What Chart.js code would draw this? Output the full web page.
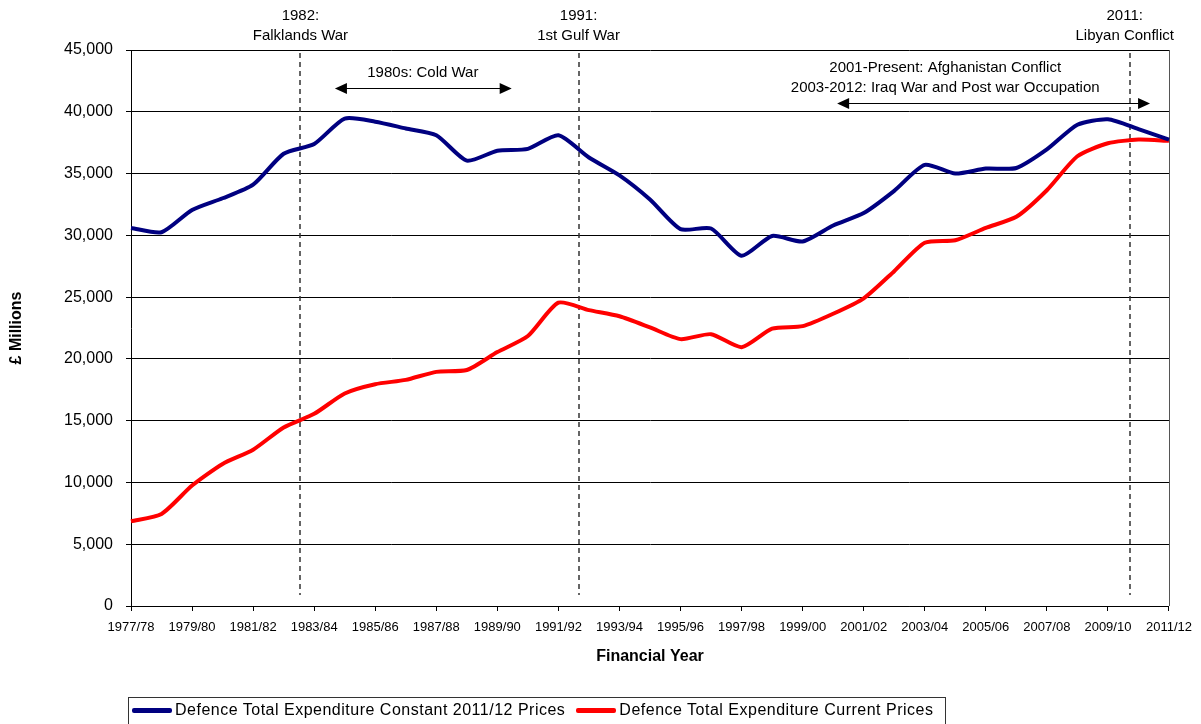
<!DOCTYPE html>
<html>
<head>
<meta charset="utf-8">
<title>Defence Total Expenditure</title>
<script src="https://cdn.jsdelivr.net/npm/chart.js@4.4.0/dist/chart.umd.min.js"></script>
<style>
  body { margin: 0; background: #fff; font-family: "Liberation Sans", Arial, sans-serif; }
  #wrap { position: relative; width: 1201px; height: 724px; overflow: hidden; }
  #legendBox {
    position: absolute; left: 128px; top: 697px; width: 816px; height: 30px;
    border: 1px solid #333; box-sizing: content-box;
    display: flex; align-items: flex-start; padding-top: 3px;
    font-size: 16px; line-height: 18px; letter-spacing: 0.5px; color: #000; white-space: nowrap;
  }
  .item { display: flex; align-items: center; }
  .swatch { display: inline-block; width: 40px; height: 5px; border-radius: 2px; margin-right: 3px; }
</style>
</head>
<body>
<div id="wrap">
  <canvas id="spendChart" width="1201" height="724"></canvas>
  <div id="legendBox"></div>
</div>
<script>
// --- Data (£ millions) ---
const years = [
  '1977/78', '1978/79', '1979/80', '1980/81', '1981/82', '1982/83', '1983/84',
  '1984/85', '1985/86', '1986/87', '1987/88', '1988/89', '1989/90', '1990/91',
  '1991/92', '1992/93', '1993/94', '1994/95', '1995/96', '1996/97', '1997/98',
  '1998/99', '1999/00', '2000/01', '2001/02', '2002/03', '2003/04', '2004/05',
  '2005/06', '2006/07', '2007/08', '2008/09', '2009/10', '2010/11', '2011/12'
];

const constantPrices = [
  30600, 30250, 32050, 33000, 34100, 36600, 37400,
  39450, 39200, 38650, 38100, 36050, 36850, 37000,
  38100, 36300, 34850, 32900, 30500, 30550, 28350,
  29950, 29500, 30800, 31800, 33600, 35700, 35000,
  35400, 35450, 36950, 38950, 39400, 38600, 37750
];

const currentPrices = [
  6850, 7450, 9750, 11500, 12650, 14450, 15550,
  17200, 17950, 18300, 18950, 19100, 20550, 21850,
  24550, 23950, 23450, 22550, 21600, 22000, 20950,
  22450, 22650, 23650, 24900, 27100, 29400, 29600,
  30600, 31500, 33650, 36400, 37450, 37750, 37650
];

const seriesNames = [
  'Defence Total Expenditure Constant 2011/12 Prices',
  'Defence Total Expenditure Current Prices'
];
const seriesColors = ['#000080', '#ff0000'];

// conflict markers: position in category units along the year axis
const eventLines = [
  { at: 5.55, textAt: 5.55, lines: ['1982:', 'Falklands War'] },
  { at: 14.66, textAt: 14.66, lines: ['1991:', '1st Gulf War'] },
  { at: 32.72, textAt: 32.55, lines: ['2011:', 'Libyan Conflict'] }
];

const periodArrows = [
  { from: 6.68, to: 12.47, textAt: 9.56, value: 41900, lines: ['1980s: Cold War'] },
  { from: 23.13, to: 33.38, textAt: 26.67, value: 40750,
    lines: ['2001-Present: Afghanistan Conflict', '2003-2012: Iraq War and Post war Occupation'] }
];

const FONT = '"Liberation Sans", Arial, sans-serif';
Chart.defaults.font.family = FONT;
Chart.defaults.color = '#000';

// --- Annotation plugin: dashed event lines, period arrows, frame ---
const annotations = {
  id: 'annotations',
  beforeDatasetsDraw(chart) {
    const { ctx, chartArea: area, scales: { x } } = chart;
    ctx.save();
    // right frame edge
    ctx.strokeStyle = '#555';
    ctx.lineWidth = 1;
    ctx.beginPath();
    ctx.moveTo(Math.round(area.right) + 0.5, area.top);
    ctx.lineTo(Math.round(area.right) + 0.5, area.bottom);
    ctx.stroke();

    ctx.strokeStyle = '#333';
    ctx.lineWidth = 1.5;
    ctx.setLineDash([5, 4]);
    eventLines.forEach(ev => {
      const px = Math.round(x.getPixelForValue(ev.at));
      ctx.beginPath();
      ctx.moveTo(px, area.top + 3);
      ctx.lineTo(px, area.bottom - 11);
      ctx.stroke();
    });
    ctx.restore();
  },
  afterDraw(chart) {
    const { ctx, chartArea: area, scales: { x, y } } = chart;
    ctx.save();
    ctx.fillStyle = '#000';
    ctx.font = '15px ' + FONT;
    ctx.textAlign = 'center';
    ctx.textBaseline = 'middle';

    eventLines.forEach(ev => {
      const px = x.getPixelForValue(ev.textAt);
      ctx.fillText(ev.lines[0], px, area.top - 34);
      ctx.fillText(ev.lines[1], px, area.top - 14);
    });

    periodArrows.forEach(ar => {
      const x1 = x.getPixelForValue(ar.from);
      const x2 = x.getPixelForValue(ar.to);
      const py = Math.round(y.getPixelForValue(ar.value)) + 0.5;
      ctx.strokeStyle = '#000';
      ctx.lineWidth = 1;
      ctx.beginPath();
      ctx.moveTo(x1 + 8, py);
      ctx.lineTo(x2 - 8, py);
      ctx.stroke();
      // arrow heads
      ctx.beginPath();
      ctx.moveTo(x1, py);
      ctx.lineTo(x1 + 12, py - 5.5);
      ctx.lineTo(x1 + 12, py + 5.5);
      ctx.closePath();
      ctx.fill();
      ctx.beginPath();
      ctx.moveTo(x2, py);
      ctx.lineTo(x2 - 12, py - 5.5);
      ctx.lineTo(x2 - 12, py + 5.5);
      ctx.closePath();
      ctx.fill();

      const tx = x.getPixelForValue(ar.textAt);
      const n = ar.lines.length;
      ar.lines.forEach((line, i) => {
        ctx.fillText(line, tx, py - 16 - (n - 1 - i) * 20);
      });
    });
    ctx.restore();
  }
};

const chart = new Chart(document.getElementById('spendChart'), {
  type: 'line',
  data: {
    labels: years,
    datasets: [
      {
        label: seriesNames[0],
        data: constantPrices,
        borderColor: seriesColors[0],
        backgroundColor: seriesColors[0],
        borderWidth: 4,
        pointRadius: 0,
        tension: 0.22,
        fill: false
      },
      {
        label: seriesNames[1],
        data: currentPrices,
        borderColor: seriesColors[1],
        backgroundColor: seriesColors[1],
        borderWidth: 4,
        pointRadius: 0,
        tension: 0.22,
        fill: false
      }
    ]
  },
  options: {
    responsive: false,
    animation: false,
    layout: { padding: { top: 50, right: 31, bottom: 58, left: 0 } },
    plugins: {
      legend: { display: false },
      tooltip: { enabled: false }
    },
    scales: {
      x: {
        offset: false,
        afterFit(scale) { scale.height = 60; },
        grid: {
          drawOnChartArea: false,
          drawTicks: true,
          tickLength: 5,
          color: c => (c.index % 2 === 0 ? '#000' : 'rgba(0,0,0,0)')
        },
        border: { display: true, color: '#000', width: 1 },
        ticks: {
          autoSkip: false,
          maxRotation: 0,
          padding: 9,
          font: { size: 13 },
          color: '#000',
          callback: (val, idx) => (idx % 2 === 0 ? years[idx] : '')
        },
        title: {
          display: true,
          text: 'Financial Year',
          font: { size: 16, weight: 'bold' },
          color: '#000',
          padding: { top: 0, bottom: 0 }
        }
      },
      y: {
        min: 0,
        max: 45000,
        afterFit(scale) { scale.width = 131; },
        grid: { color: '#000', lineWidth: 1, tickLength: 5, drawTicks: true },
        border: { display: true, color: '#000', width: 1 },
        ticks: {
          stepSize: 5000,
          padding: 13,
          font: { size: 16 },
          color: '#000',
          callback: v => v.toLocaleString('en-US')
        },
        title: {
          display: true,
          text: '£ Millions',
          font: { size: 16, weight: 'bold' },
          color: '#000',
          padding: { top: 7, bottom: 0 }
        }
      }
    }
  },
  plugins: [annotations]
});

// --- HTML legend ---
const legendBox = document.getElementById('legendBox');
seriesNames.forEach((name, i) => {
  const item = document.createElement('span');
  item.className = 'item';
  item.style.marginLeft = i === 0 ? '3px' : '11px';
  const sw = document.createElement('span');
  sw.className = 'swatch';
  sw.style.background = seriesColors[i];
  item.appendChild(sw);
  item.appendChild(document.createTextNode(name));
  legendBox.appendChild(item);
});
</script>
</body>
</html>
